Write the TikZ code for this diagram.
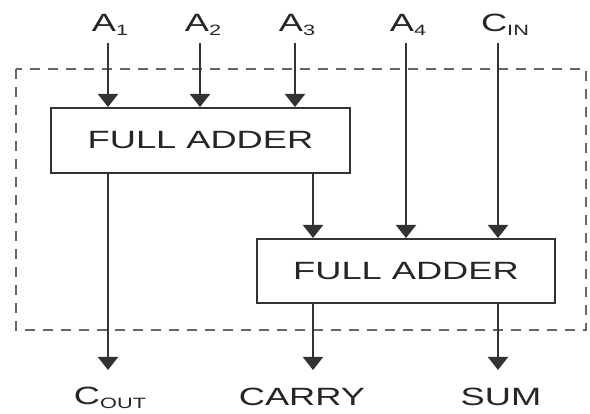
\documentclass[tikz,border=0pt]{standalone}
\usepackage{fontspec}
\setmainfont{Liberation Sans}
\usetikzlibrary{arrows.meta}
\newcommand\sbs[1]{\raisebox{-4pt}{\fontsize{15pt}{15pt}\selectfont #1}}
\newcommand\wide[1]{\scalebox{1.45}[1]{#1}}
\tikzset{
  lbl/.style={inner sep=0pt, anchor=base, font=\fontsize{25pt}{25pt}\selectfont, text=black!85},
  adder/.style={draw=black!80, line width=2pt, minimum width=#1, minimum height=65pt, inner sep=0pt, font=\fontsize{25pt}{25pt}\selectfont, text=black!85},
  arr/.style={line width=2pt, draw=black!80, -{Triangle[width=20pt,length=13pt]}},
  frame/.style={draw=black!60, line width=1.6pt, dash pattern=on 10pt off 8pt}
}
\begin{document}
\begin{tikzpicture}[x=1pt,y=-1pt]
\useasboundingbox (0,0) rectangle (590,414);
% dashed frame
\draw[frame] (16,69) rectangle (586,330);
% adders
\node[adder=299pt] (fa1) at (200.5,140.5) {\wide{FULL ADDER}};
\node[adder=298pt, minimum height=64pt] (fa2) at (406,271) {\wide{FULL ADDER}};
% input labels
\node[lbl] (a1) at (110,32) {\wide{A\sbs{1}}};
\node[lbl] (a2) at (203,32) {\wide{A\sbs{2}}};
\node[lbl] (a3) at (297,32) {\wide{A\sbs{3}}};
\node[lbl] (a4) at (408,32) {\wide{A\sbs{4}}};
\node[lbl] (cin) at (505,32) {\wide{C\sbs{IN}}};
% output labels
\node[lbl] (cout) at (110,405) {\wide{C\sbs{OUT}}};
\node[lbl] (carry) at (302,406) {\wide{CARRY}};
\node[lbl] (sum) at (501,406) {\wide{SUM}};
% arrow start / end coordinates
\coordinate (s1) at (108,43);
\coordinate (s2) at (200,43);
\coordinate (s3) at (295,43);
\coordinate (s4) at (406,43);
\coordinate (s5) at (498,43);
\coordinate (e1) at (108,370);
\coordinate (e2) at (313,370);
\coordinate (e3) at (498,370);
% inputs
\draw[arr] (s1) -- (s1 |- fa1.north);
\draw[arr] (s2) -- (s2 |- fa1.north);
\draw[arr] (s3) -- (s3 |- fa1.north);
\draw[arr] (s4) -- (s4 |- fa2.north);
\draw[arr] (s5) -- (s5 |- fa2.north);
% internal
\draw[arr] (e2 |- fa1.south) -- (e2 |- fa2.north);
% outputs
\draw[arr] (e1 |- fa1.south) -- (e1);
\draw[arr] (e2 |- fa2.south) -- (e2);
\draw[arr] (e3 |- fa2.south) -- (e3);
\end{tikzpicture}
\end{document}
